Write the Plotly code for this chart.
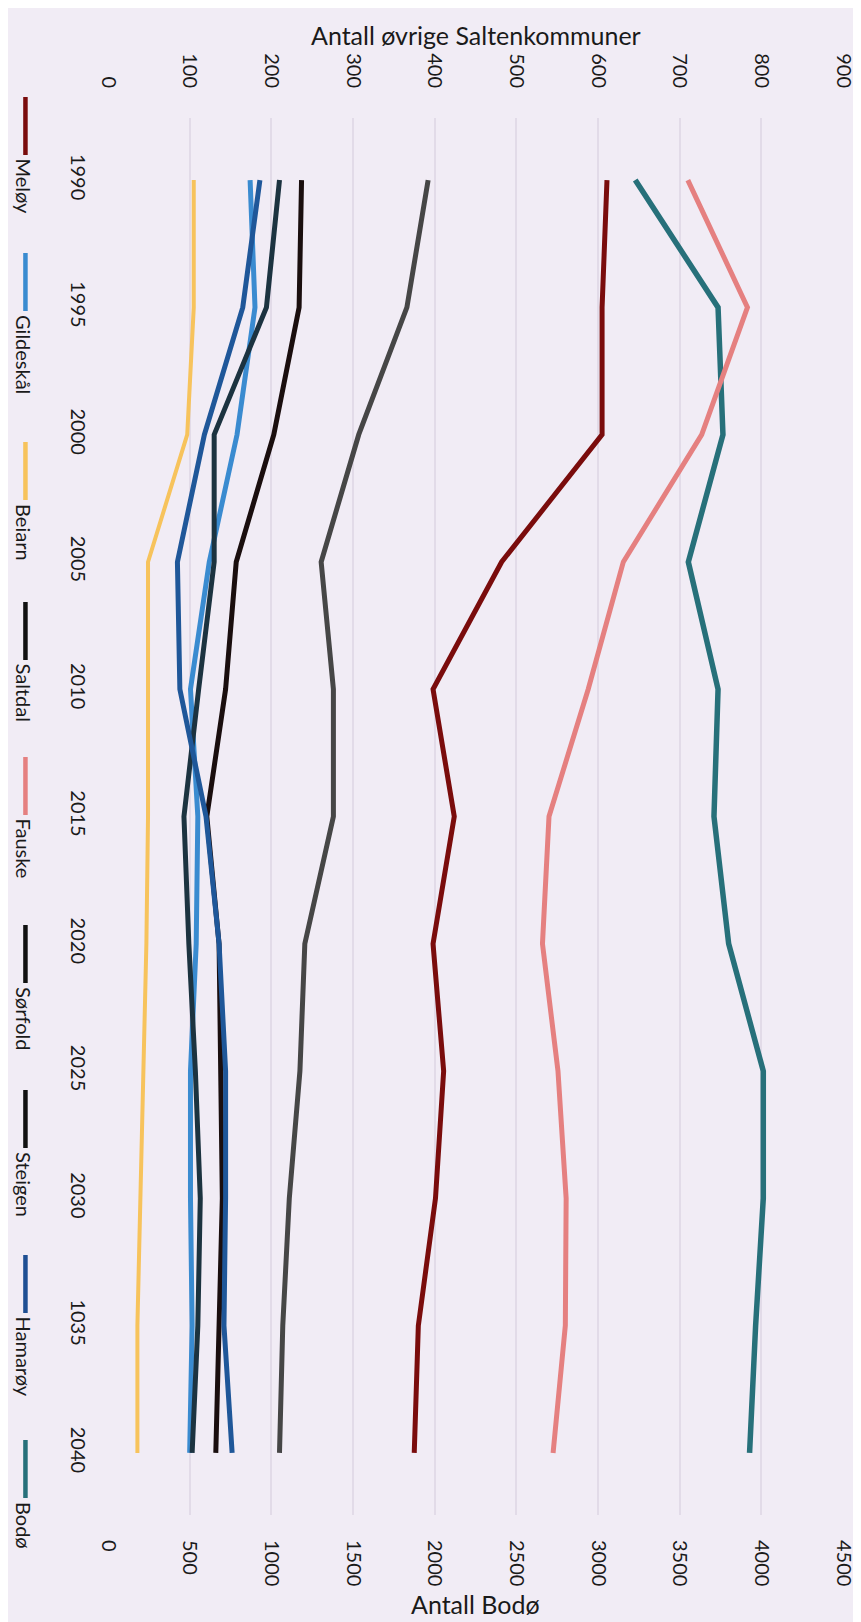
import plotly.graph_objects as go

years = [1990, 1995, 2000, 2005, 2010, 2015, 2020, 2025, 2030, 2035, 2040]
year_ticktext = ["1990", "1995", "2000", "2005", "2010", "2015", "2020", "2025", "2030", "1035", "2040"]

meloy = [611, 605, 605, 482, 398, 424, 398, 411, 401, 380, 375]
gildeskal = [174, 180, 158, 124, 101, 110, 108, 101, 101, 103, 100]
beiarn = [105, 105, 97, 49, 49, 49, 47, 43, 39, 36, 36]
saltdal = [392, 366, 307, 261, 276, 276, 241, 235, 222, 214, 210]
fauske = [710, 783, 727, 631, 588, 540, 532, 551, 561, 560, 545]
sorfold = [210, 194, 130, 130, 111, 93, 99, 107, 113, 110, 103]
steigen = [237, 234, 203, 157, 144, 121, 136, 138, 140, 136, 132]
hamaroy = [186, 165, 118, 85, 88, 120, 136, 144, 144, 142, 152]
bodo = [3228, 3735, 3765, 3553, 3735, 3710, 3800, 4012, 4012, 3965, 3928]

names = ["Meløy", "Gildeskål", "Beiarn", "Saltdal", "Fauske", "Sørfold", "Steigen", "Hamarøy", "Bodø"]
series = [meloy, gildeskal, beiarn, saltdal, fauske, sorfold, steigen, hamaroy, bodo]
colors = ["#7a0c0c", "#3a8bd0", "#f7c35c", "#464646", "#e58080", "#1c3340", "#1a0e0e", "#1f5799", "#27707a"]
legend_colors = ["#7a0c0c", "#3a8bd0", "#f7c35c", "#111111", "#e58080", "#111111", "#111111", "#1f4f93", "#27707a"]
widths = [5, 5, 4, 5, 5, 5, 5, 5, 5.5]

top_ticks = [0, 100, 200, 300, 400, 500, 600, 700, 800, 900]
bottom_ticks = [0, 500, 1000, 1500, 2000, 2500, 3000, 3500, 4000, 4500]

W, H = 861, 1622
L, R, T, B = 100, 22, 110, 115
PW, PH = W - L - R, H - T - B
FONT = "Lato"
TXT = "#1a1a1a"
BG = "#f1ecf5"


def px_x(px):
    return (px - L) / PW


def px_y(py):
    return (H - B - py) / PH


fig = go.Figure()
for name, vals, col, wd in zip(names, series, colors, widths):
    axis = "x" if name == "Bodø" else "x2"
    fig.add_trace(go.Scatter(x=vals, y=years, mode="lines", name=name,
                             line=dict(color=col, width=wd), xaxis=axis, yaxis="y"))

annotations = [
    dict(text="Antall øvrige Saltenkommuner", x=0.5, y=px_y(27), xref="paper", yref="paper",
         showarrow=False, font=dict(size=25, color=TXT, family=FONT), xanchor="center", yanchor="middle"),
    dict(text="Antall Bodø", x=0.5, y=px_y(1596), xref="paper", yref="paper",
         showarrow=False, font=dict(size=25, color=TXT, family=FONT), xanchor="center", yanchor="middle"),
]
shapes = []
swatch_end = [147, 303, 492, 652, 807, 975, 1140, 1305, 1490]
for name, col, end in zip(names, legend_colors, swatch_end):
    shapes.append(dict(type="line", xref="paper", yref="paper",
                       x0=px_x(17), x1=px_x(17), y0=px_y(end - 58), y1=px_y(end),
                       line=dict(color=col, width=4.5)))
    annotations.append(dict(text=name, textangle=90, x=px_x(16), y=px_y(end + 2),
                            xref="paper", yref="paper", showarrow=False,
                            xanchor="center", yanchor="top",
                            font=dict(size=20, color=TXT, family=FONT)))

fig.update_layout(
    width=W, height=H,
    margin=dict(l=L, r=R, t=T, b=B),
    paper_bgcolor=BG, plot_bgcolor=BG,
    showlegend=False,
    font=dict(family=FONT, size=20, color=TXT),
    xaxis=dict(range=[0, 4500], tickvals=bottom_ticks, ticktext=[str(v) for v in bottom_ticks],
               tickangle=90, side="bottom", showgrid=True, gridcolor="#e2dbe8", gridwidth=2,
               zeroline=False, showline=False, ticklabelstandoff=24,
               tickfont=dict(size=20, color=TXT, family=FONT)),
    xaxis2=dict(range=[0, 900], tickvals=top_ticks, ticktext=[str(v) for v in top_ticks],
                tickangle=90, side="top", overlaying="x", showgrid=False,
                zeroline=False, showline=False, ticklabelstandoff=26,
                tickfont=dict(size=20, color=TXT, family=FONT)),
    yaxis=dict(range=[2042.44, 1987.56], tickvals=years, ticktext=year_ticktext,
               tickangle=90, showgrid=False, zeroline=False, showline=False,
               ticklabelstandoff=16, tickfont=dict(size=20, color=TXT, family=FONT)),
    annotations=annotations,
    shapes=shapes,
)

fig.write_html("out.html")
